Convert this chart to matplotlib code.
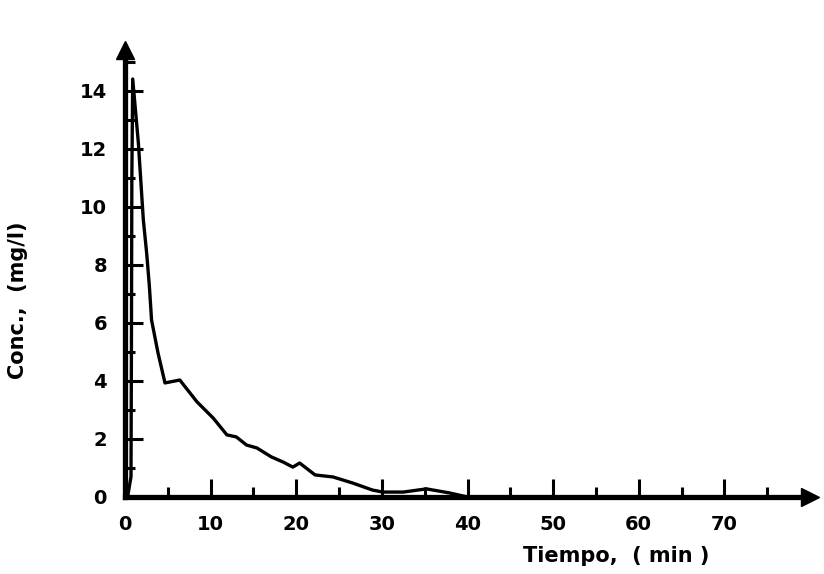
import numpy as np
import matplotlib
matplotlib.use("Agg")
import matplotlib.pyplot as plt
from matplotlib.ticker import FixedLocator

# curve
tiempo = [0, 0.3, 0.7, 0.75, 0.8, 0.9, 1.56, 2.14, 2.53, 2.85, 3.1, 3.85, 4.67,
          6.4, 8.4, 10.3, 11.9, 13.0, 14.2, 15.4, 17.1, 18.5, 19.6, 20.4,
          22.2, 24.3, 26.6, 28.9, 30.1, 32.5, 35.2, 37.9, 40.0]
conc = [0, 0, 0.7, 5.0, 11.0, 14.4, 12.2, 9.55, 8.4, 7.25, 6.1, 4.97, 3.93,
        4.03, 3.28, 2.72, 2.14, 2.07, 1.79, 1.69, 1.38, 1.2, 1.03, 1.17,
        0.76, 0.69, 0.48, 0.24, 0.17, 0.17, 0.28, 0.14, 0.0]

x_labels = [0, 10, 20, 30, 40, 50, 60, 70]
x_minor = [5, 15, 25, 35, 45, 55, 65, 75]
y_labels = [0, 2, 4, 6, 8, 10, 12, 14]
y_minor = [1, 3, 5, 7, 9, 11, 13, 15]

plt.rcParams['font.family'] = ['DejaVu Sans']
plt.rcParams['font.weight'] = 'bold'

fig = plt.figure(figsize=(8.24, 5.74), dpi=100)
ax = fig.add_axes([125/824, 1 - 497/574, 685/824, 447/574])

ax.plot(tiempo, conc, color="black", lw=2.4, solid_joinstyle="round", clip_on=False)

ax.set_xlim(0, 80)
ax.set_ylim(0, 15.4)

for s in ["top", "right"]:
    ax.spines[s].set_visible(False)
for s in ["left", "bottom"]:
    ax.spines[s].set_linewidth(3.8)
    ax.spines[s].set_capstyle("projecting")

# arrow heads
ax.plot(1, 0, ">", color="black", ms=13, transform=ax.transAxes, clip_on=False)
ax.plot(0, 1, "^", color="black", ms=13, transform=ax.transAxes, clip_on=False)

ax.set_xticks(x_labels)
ax.set_yticks(y_labels)
ax.xaxis.set_minor_locator(FixedLocator(x_minor))
ax.yaxis.set_minor_locator(FixedLocator(y_minor))
ax.set_xticklabels([str(v) for v in x_labels], fontsize=14, fontweight="bold")
ax.set_yticklabels([str(v) for v in y_labels], fontsize=14, fontweight="bold")
ax.tick_params(which="major", direction="in", length=13, width=2.2, pad=13)
ax.tick_params(which="minor", direction="in", length=7, width=2.2)

ax.set_xlabel("Tiempo,  ( min )", fontsize=15, fontweight="bold")
ax.xaxis.set_label_coords(0.717, -0.11)
ax.set_ylabel("Conc.,  (mg/l)", fontsize=15, fontweight="bold")
ax.yaxis.set_label_coords(-0.142, 0.44)

fig.savefig("out.png", dpi=100)
